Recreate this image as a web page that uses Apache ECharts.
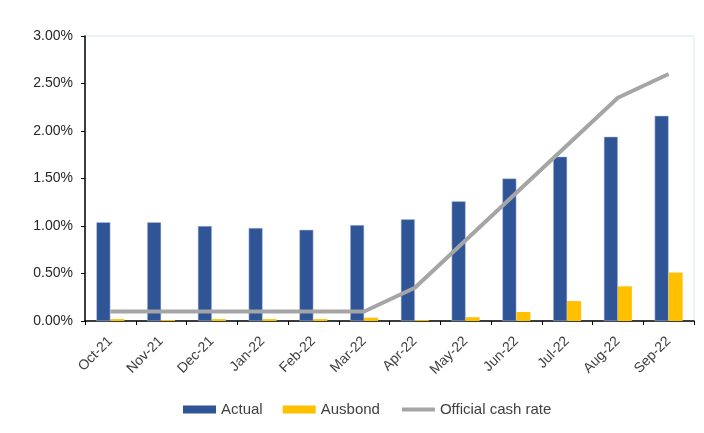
<!DOCTYPE html>
<html lang="en">
<head>
    <meta charset="UTF-8">
    <title>actual vs ausbond</title>
    <script src="https://cdn.jsdelivr.net/npm/echarts@6/dist/echarts.min.js"></script>
    <style>
        html, body { margin: 0; padding: 0; background: #fff; }
        #main { width: 704px; height: 433px; }
    </style>
</head>
<body>
<div id="main"></div>
<script>
    // data, in percent
    var months = ['Oct-21', 'Nov-21', 'Dec-21', 'Jan-22', 'Feb-22', 'Mar-22',
        'Apr-22', 'May-22', 'Jun-22', 'Jul-22', 'Aug-22', 'Sep-22'];
    var actual = [1.04, 1.04, 1.00, 0.98, 0.96, 1.01, 1.07, 1.26, 1.50, 1.73, 1.94, 2.16];
    var ausbond = [0.02, 0.01, 0.02, 0.02, 0.02, 0.035, 0.01, 0.04, 0.095, 0.21, 0.365, 0.51];
    var cashRate = [0.10, 0.10, 0.10, 0.10, 0.10, 0.10, 0.35, 0.85, 1.35, 1.85, 2.35, 2.60];

    var myChart = echarts.init(document.getElementById('main'));

    var option = {
        animation: false,
        grid: {
            left: 85, right: 10, top: 36, bottom: 112,
            show: true, borderColor: '#d6e6f5', borderWidth: 1
        },
        legend: {
            top: 397,
            left: 178,
            itemWidth: 33,
            itemHeight: 8,
            itemGap: 20,
            itemStyle: { borderWidth: 0 },
            textStyle: { fontFamily: 'Liberation Sans', fontSize: 15, color: '#404040' },
            data: [
                { name: 'Actual', icon: 'rect' },
                { name: 'Ausbond', icon: 'rect' },
                { name: 'Official cash rate', itemStyle: { opacity: 0 }, lineStyle: { width: 4 } }
            ]
        },
        xAxis: {
            type: 'category',
            data: months,
            boundaryGap: true,
            axisLine: { lineStyle: { color: '#000', width: 1.5 } },
            axisTick: { show: true, length: 4, lineStyle: { color: '#000' } },
            axisLabel: {
                rotate: 45, margin: 18, interval: 0,
                fontFamily: 'Liberation Sans', fontSize: 14, color: '#404040'
            }
        },
        yAxis: {
            type: 'value',
            min: 0, max: 3, interval: 0.5,
            axisLine: { show: true, lineStyle: { color: '#000', width: 1.5 } },
            axisTick: { show: true, length: 4, lineStyle: { color: '#000' } },
            splitLine: { show: false },
            axisLabel: {
                margin: 12,
                fontFamily: 'Liberation Sans', fontSize: 14, color: '#262626',
                formatter: function (v) { return v.toFixed(2) + '%'; }
            }
        },
        series: [
            {
                name: 'Actual', type: 'bar', data: actual,
                barWidth: 14, barGap: '0%',
                itemStyle: { color: '#2f5597', borderColor: '#b4c7e7', borderWidth: 0.5 }
            },
            {
                name: 'Ausbond', type: 'bar', data: ausbond,
                barWidth: 14,
                itemStyle: { color: '#ffc000' }
            },
            {
                name: 'Official cash rate', type: 'line', data: cashRate,
                symbol: 'none', z: 5,
                lineStyle: { color: '#a5a5a5', width: 4 },
                itemStyle: { color: '#a5a5a5' }
            }
        ]
    };

    myChart.setOption(option);
</script>
</body>
</html>
